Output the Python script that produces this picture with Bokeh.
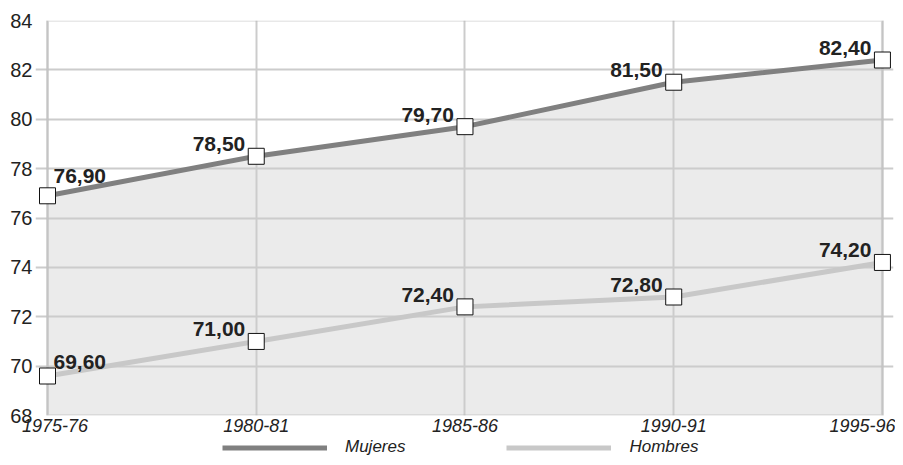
from bokeh.plotting import figure
from bokeh.layouts import column
from bokeh.models import ColumnDataSource, Legend, LegendItem, FixedTicker, Range1d, BoxAnnotation
from bokeh.core.properties import value
from bokeh.embed import file_html
from bokeh.resources import INLINE

periods = ["1975-76", "1980-81", "1985-86", "1990-91", "1995-96"]
mujeres = [76.9, 78.5, 79.7, 81.5, 82.4]
hombres = [69.6, 71.0, 72.4, 72.8, 74.2]
y_ticks = [68, 70, 72, 74, 76, 78, 80, 82, 84]
series_names = ["Mujeres", "Hombres"]

FONT = "Liberation Sans"
C_MUJ = "#808080"
C_HOM = "#c8c8c8"
NB = "\u00a0"

xs = list(range(len(periods)))

p = figure(width=895, height=438, output_backend="svg", toolbar_location=None,
           x_range=Range1d(-0.0575, 4.053), y_range=Range1d(68, 84),
           min_border_left=35, min_border_right=2, min_border_top=20, min_border_bottom=0)
p.outline_line_color = None
p.background_fill_color = "white"

# shaded area under Mujeres
p.varea(x=xs, y1=[68] * len(xs), y2=mujeres, fill_color="#ebebeb", level="image")

# frame border
box = BoxAnnotation(left=0, right=4, bottom=68, top=84, fill_alpha=0,
                    line_color="#b4b4b4", line_width=3, level="underlay")
p.add_layout(box)

p.xgrid.bounds = (0, 4)
p.ygrid.bounds = (68, 84)
for g in (p.xgrid[0], p.ygrid[0]):
    g.grid_line_color = "#cccccc"
    g.grid_line_width = 2

p.line(xs, mujeres, line_color=C_MUJ, line_width=5)
p.line(xs, hombres, line_color=C_HOM, line_width=5)
p.scatter(xs, mujeres, marker="square", size=16, fill_color="white", line_color="#111111", line_width=1)
p.scatter(xs, hombres, marker="square", size=16, fill_color="white", line_color="#111111", line_width=1)


def fmt(v):
    return f"{v:.2f}".replace(".", ",")


for series, first_dy in ((mujeres, -20), (hombres, -14)):
    n = len(series)
    src = ColumnDataSource(dict(
        x=xs, y=series, t=[fmt(v) for v in series],
        align=["left"] + ["right"] * (n - 1),
        dx=[6] + [-11] * (n - 1),
        dy=[first_dy] + [-12] * (n - 1),
    ))
    p.text(x="x", y="y", text="t", source=src, text_align="align", text_baseline="alphabetic",
           x_offset="dx", y_offset="dy", text_font=value(FONT), text_font_style="bold",
           text_font_size="21px", text_color="#222222")

tick_text = list(periods)
tick_text[0] = NB * 3 + tick_text[0]
p.xaxis.ticker = FixedTicker(ticks=xs)
p.xaxis.major_label_overrides = {i: s for i, s in enumerate(tick_text)}
p.yaxis.ticker = FixedTicker(ticks=y_ticks)
for ax in (p.xaxis[0], p.yaxis[0]):
    ax.axis_line_color = None
    ax.major_tick_line_color = None
    ax.minor_tick_line_color = None
    ax.major_tick_out = 0
    ax.major_tick_in = 0
    ax.minor_tick_out = 0
    ax.major_label_text_color = "#222222"
    ax.major_label_text_font = FONT
p.xaxis.major_label_text_font_style = "italic"
p.xaxis.major_label_text_font_size = "18px"
p.xaxis.major_label_standoff = 0
p.yaxis.major_label_text_font_size = "20px"
p.yaxis.major_label_standoff = 3

# legend strip below the chart
lg = figure(width=895, height=19, output_backend="svg", toolbar_location=None,
            x_range=Range1d(0, 1), y_range=Range1d(0, 1), x_axis_type=None, y_axis_type=None,
            min_border_left=0, min_border_right=0, min_border_top=0, min_border_bottom=0)
lg.outline_line_color = None
lg.xgrid.visible = False
lg.ygrid.visible = False
r1 = lg.line(x=[-5, -4], y=[-5, -5], line_color=C_MUJ, line_width=5)
r2 = lg.line(x=[-5, -4], y=[-5, -5], line_color=C_HOM, line_width=5)
legend = Legend(items=[LegendItem(label=series_names[0], renderers=[r1]),
                       LegendItem(label=series_names[1], renderers=[r2])],
                orientation="horizontal", location=(187, 0), padding=0, margin=0,
                glyph_width=105, glyph_height=17, label_height=17, label_standoff=18, spacing=101,
                border_line_color=None, background_fill_alpha=0,
                label_text_font=FONT, label_text_font_style="italic",
                label_text_font_size="17px", label_text_color="#222222")
lg.add_layout(legend, "center")

layout = column(p, lg, spacing=0)
open("out.html", "w").write(file_html(layout, INLINE))
